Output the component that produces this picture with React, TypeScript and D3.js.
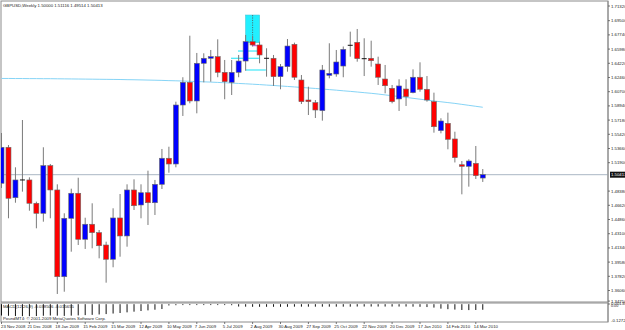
import React from "react";
import * as d3 from "d3";

const W = 625;
const H = 330;

// Weekly GBPUSD candles (23 Nov 2008 .. 21 Mar 2010)
const opens = [1.4935,1.5381,1.4756,1.4976,1.4976,1.4687,1.4563,1.5153,1.4852,1.3777,1.4501,1.4811,1.4241,1.4427,1.4323,1.4170,1.3993,1.4505,1.4282,1.4852,1.4666,1.4818,1.4694,1.4922,1.5245,1.5174,1.5905,1.6186,1.5955,1.6422,1.6484,1.6504,1.6310,1.6186,1.6310,1.6450,1.6690,1.6649,1.6484,1.6484,1.6256,1.6380,1.6657,1.6215,1.5967,1.5934,1.5835,1.6273,1.6289,1.6388,1.6645,1.6682,1.6479,1.6484,1.6413,1.6227,1.6112,1.5980,1.6103,1.6058,1.6249,1.6100,1.5946,1.5587,1.5678,1.5484,1.5165,1.5145,1.5182,1.5000];
const highs = [1.5558,1.5409,1.5133,1.5719,1.5009,1.4707,1.5381,1.5174,1.4922,1.4563,1.4868,1.5004,1.4508,1.4687,1.4356,1.4211,1.4625,1.4802,1.4922,1.4984,1.4922,1.5091,1.4976,1.5360,1.5388,1.5946,1.6249,1.6764,1.6550,1.6546,1.6587,1.6719,1.6463,1.6463,1.6525,1.6773,1.6760,1.6690,1.6608,1.6525,1.6413,1.6723,1.6678,1.6277,1.6132,1.5967,1.6401,1.6670,1.6587,1.6630,1.6814,1.6847,1.6732,1.6702,1.6504,1.6401,1.6153,1.6224,1.6224,1.6347,1.6434,1.6264,1.6058,1.5741,1.5810,1.5574,1.5211,1.5232,1.5397,1.51116];
const lows = [1.4877,1.4501,1.4694,1.4831,1.4595,1.4377,1.4459,1.4501,1.3563,1.3591,1.4087,1.4170,1.4121,1.4129,1.4005,1.3703,1.3894,1.4025,1.4149,1.4604,1.4501,1.4418,1.4542,1.4864,1.5066,1.5133,1.5769,1.5926,1.5802,1.6186,1.6194,1.6249,1.5976,1.6029,1.6249,1.6330,1.6630,1.6422,1.6256,1.6141,1.6100,1.6318,1.6215,1.5917,1.5781,1.5744,1.5711,1.6236,1.6256,1.6249,1.6504,1.6442,1.6264,1.6380,1.6153,1.6050,1.5926,1.5831,1.5893,1.6050,1.6070,1.5946,1.5562,1.5554,1.5356,1.5193,1.4798,1.4893,1.4988,1.49514];
const closes = [1.5381,1.4749,1.4976,1.4976,1.4687,1.4563,1.5153,1.4852,1.3777,1.4501,1.4811,1.4241,1.4427,1.4323,1.4161,1.3993,1.4505,1.4282,1.4852,1.4657,1.4818,1.4694,1.4922,1.5245,1.5174,1.5905,1.6186,1.5955,1.6422,1.6484,1.6504,1.6310,1.6194,1.6310,1.6450,1.6690,1.6649,1.6525,1.6484,1.6256,1.6380,1.6636,1.6249,1.5946,1.5946,1.5843,1.6339,1.6298,1.6438,1.6595,1.6645,1.6479,1.6479,1.6454,1.6249,1.6144,1.5946,1.6141,1.6008,1.6249,1.6100,1.5967,1.5636,1.5707,1.5480,1.5252,1.5145,1.5211,1.5029,1.50413];

// long moving average (light blue line)
const maValues = [1.6234,1.6234,1.6233,1.6233,1.6232,1.6232,1.6231,1.6231,1.6230,1.6229,1.6228,1.6227,1.6226,1.6225,1.6224,1.6223,1.6222,1.6221,1.6219,1.6218,1.6216,1.6214,1.6212,1.6210,1.6207,1.6205,1.6202,1.6199,1.6196,1.6192,1.6189,1.6185,1.6181,1.6177,1.6172,1.6168,1.6163,1.6158,1.6152,1.6147,1.6141,1.6135,1.6129,1.6123,1.6116,1.6110,1.6103,1.6096,1.6089,1.6081,1.6074,1.6066,1.6058,1.6050,1.6041,1.6030,1.6020,1.6010,1.5999,1.5988,1.5977,1.5966,1.5955,1.5945,1.5935,1.5925,1.5913,1.5901,1.5889,1.5877];

// MACD histogram
const macdValues = [-0.082,-0.084,-0.086,-0.087,-0.087,-0.086,-0.084,-0.082,-0.083,-0.085,-0.083,-0.081,-0.079,-0.077,-0.074,-0.071,-0.067,-0.063,-0.058,-0.053,-0.048,-0.043,-0.038,-0.033,-0.006,-0.004,-0.003,-0.003,-0.003,-0.003,-0.003,-0.003,-0.003,-0.004,-0.014,-0.015,-0.016,-0.016,-0.016,-0.016,-0.016,-0.016,-0.015,-0.015,-0.015,-0.015,-0.015,-0.015,-0.015,-0.015,-0.015,-0.014,-0.014,-0.014,-0.014,-0.014,-0.014,-0.014,-0.014,-0.015,-0.016,-0.018,-0.022,-0.03,-0.034,-0.037,-0.04,-0.041,-0.04,-0.0385];

const priceTicks = [1.7132,1.695,1.6774,1.6598,1.6422,1.6246,1.607,1.5894,1.5718,1.5542,1.5366,1.519,1.4838,1.4662,1.4486,1.431,1.4134,1.3958,1.3782,1.3606,1.3475];
const priceMin = 1.3476;
const priceMax = 1.7132;
const currentPrice = 1.50413;

const dateLabels = ["23 Nov 2008","21 Dec 2008","18 Jan 2009","15 Feb 2009","15 Mar 2009","12 Apr 2009","10 May 2009","7 Jun 2009","5 Jul 2009","2 Aug 2009","30 Aug 2009","27 Sep 2009","25 Oct 2009","22 Nov 2009","20 Dec 2009","17 Jan 2010","14 Feb 2010","14 Mar 2010"];
const dateBarIndex = [0,4,8,12,16,20,24,28,32,36,40,44,48,52,56,60,64,68];

// drawing objects
const boxObj = { i0: 35, i1: 37, p0: 1.702, p1: 1.6678 };
const dashObj = { i: 36, p0: 1.702, p1: 1.6700 };
const cyanSegs = [
  { i0: 33.9, i1: 36.9, p: 1.6574 },
  { i0: 32.9, i1: 36.9, p: 1.6484 },
  { i0: 35.0, i1: 37.9, p: 1.6339 },
];
const magentaSegs = [{ i0: 35.9, i1: 36.9, p: 1.664 }];

const macdTop = 0.00138;
const macdBottom = -0.12725;

export default function App() {
  const left = 1, right = 608, top = 1, mainBottom = 302;
  const indTop = 303, indBottom = 322;
  const n = closes.length;
  const x = d3.scaleLinear().domain([0, n - 1]).range([1.5, 1.5 + (n - 1) * 6.975]);
  const y = d3.scaleLinear().domain([priceMin, priceMax]).range([301, 6]);
  const ym = d3.scaleLinear().domain([macdBottom, macdTop]).range([321, 304]);
  const bw = 5;
  const font = "'Liberation Sans', Arial, sans-serif";
  const fs = 4.3;
  const maLine = d3.line<number>().x((_, i) => x(i)).y((d) => y(d))(maValues) || "";

  return (
    <svg width={W} height={H} style={{ position: "absolute", left: 0, top: 0, background: "#fff" }} fontFamily={font}>
      <defs>
        <clipPath id="mainClip"><rect x={left} y={top} width={right - left} height={mainBottom - top} /></clipPath>
        <clipPath id="indClip"><rect x={left} y={indTop} width={right - left} height={indBottom - indTop} /></clipPath>
      </defs>
      <rect x={0} y={0} width={W} height={H} fill="#fff" />
      {/* frames */}
      <rect x={left} y={top} width={right - left} height={mainBottom - top} fill="none" stroke="#8c8c8c" strokeWidth={1} />
      <rect x={left} y={indTop} width={right - left} height={indBottom - indTop} fill="none" stroke="#8c8c8c" strokeWidth={1} />

      <g clipPath="url(#mainClip)">
        {/* current price line */}
        <line x1={left} x2={right} y1={y(currentPrice)} y2={y(currentPrice)} stroke="#aab7c4" strokeWidth={1} />
        {/* objects */}
        <rect x={x(boxObj.i0)} y={y(boxObj.p0)} width={x(boxObj.i1) - x(boxObj.i0)} height={y(boxObj.p1) - y(boxObj.p0)} fill="#22f0ff" stroke="#40c8d8" strokeWidth={0.6} />
        <line x1={x(dashObj.i)} x2={x(dashObj.i)} y1={y(dashObj.p0)} y2={y(dashObj.p1)} stroke="#555" strokeWidth={0.8} strokeDasharray="1.2,1.2" />
        {cyanSegs.map((s, k) => (
          <line key={"c" + k} x1={x(s.i0)} x2={x(s.i1)} y1={y(s.p)} y2={y(s.p)} stroke="#3ee8f8" strokeWidth={1.2} />
        ))}
        {magentaSegs.map((s, k) => (
          <line key={"m" + k} x1={x(s.i0)} x2={x(s.i1)} y1={y(s.p)} y2={y(s.p)} stroke="#e040e0" strokeWidth={1} />
        ))}
        {/* MA line */}
        <path d={maLine} fill="none" stroke="#86d4f6" strokeWidth={1} />
        {/* candles */}
        {closes.map((c, i) => {
          const o = opens[i];
          const cx = x(i);
          const doji = Math.abs(o - c) < 0.00015;
          const yt = y(Math.max(o, c));
          const yb = y(Math.min(o, c));
          return (
            <g key={i}>
              <line x1={cx} x2={cx} y1={y(highs[i])} y2={y(lows[i])} stroke="#7a7a7a" strokeWidth={1} />
              {doji ? (
                <line x1={cx - bw / 2} x2={cx + bw / 2} y1={yt} y2={yt} stroke="#111" strokeWidth={1} />
              ) : (
                <rect x={cx - bw / 2} y={yt} width={bw} height={Math.max(1, yb - yt)} fill={c > o ? "#0000ff" : "#ff0000"} stroke="#6a6a6a" strokeWidth={0.6} />
              )}
            </g>
          );
        })}
      </g>

      {/* title */}
      <text x={3} y={7} fontSize={fs} fill="#222">GBPUSD,Weekly  1.50000 1.51116 1.49514 1.50413</text>

      {/* right price axis */}
      <line x1={right} x2={right} y1={top} y2={indBottom} stroke="#8c8c8c" strokeWidth={1} />
      {priceTicks.map((p, k) => (
        <g key={"t" + k}>
          <line x1={right} x2={right + 2} y1={y(p)} y2={y(p)} stroke="#555" strokeWidth={0.8} />
          <text x={right + 3} y={y(p) + 1.5} fontSize={fs} fill="#222">{p.toFixed(5)}</text>
        </g>
      ))}
      <rect x={right + 2} y={y(currentPrice) - 3} width={W - right} height={6} fill="#111" />
      <text x={right + 3} y={y(currentPrice) + 1.5} fontSize={fs} fill="#fff">{currentPrice.toFixed(5)}</text>

      {/* indicator */}
      <g clipPath="url(#indClip)">
        {macdValues.map((v, i) => {
          const y0 = ym(0);
          const y1 = ym(v);
          return <line key={"h" + i} x1={x(i)} x2={x(i)} y1={Math.min(y0, y1)} y2={Math.max(y0, y1) + 0.5} stroke="#111" strokeWidth={1} />;
        })}
      </g>
      <text x={3} y={307.5} fontSize={fs} fill="#222">MACD(12,26,9) -0.038506 -0.015655</text>
      <text x={3} y={320} fontSize={fs} fill="#222">PoundMT4: © 2001-2009 MetaQuotes Software Corp.</text>
      <line x1={right} x2={right + 2} y1={ym(macdTop)} y2={ym(macdTop)} stroke="#555" strokeWidth={0.8} />
      <text x={right + 3} y={ym(macdTop) + 1.2} fontSize={fs} fill="#222">0.00138</text>
      <text x={right + 3} y={ym(0) + 3.2} fontSize={fs - 0.6} fill="#222">0.00</text>
      <text x={right + 3} y={ym(macdBottom) + 0.5} fontSize={fs} fill="#222">{macdBottom.toFixed(5)}</text>

      {/* date axis */}
      {dateBarIndex.map((bi, k) => (
        <g key={"d" + k}>
          <line x1={x(bi)} x2={x(bi)} y1={indBottom} y2={indBottom + 2} stroke="#555" strokeWidth={0.8} />
          <text x={Math.max(1, x(bi) - 2)} y={328} fontSize={fs} fill="#222">{dateLabels[k]}</text>
        </g>
      ))}
    </svg>
  );
}
